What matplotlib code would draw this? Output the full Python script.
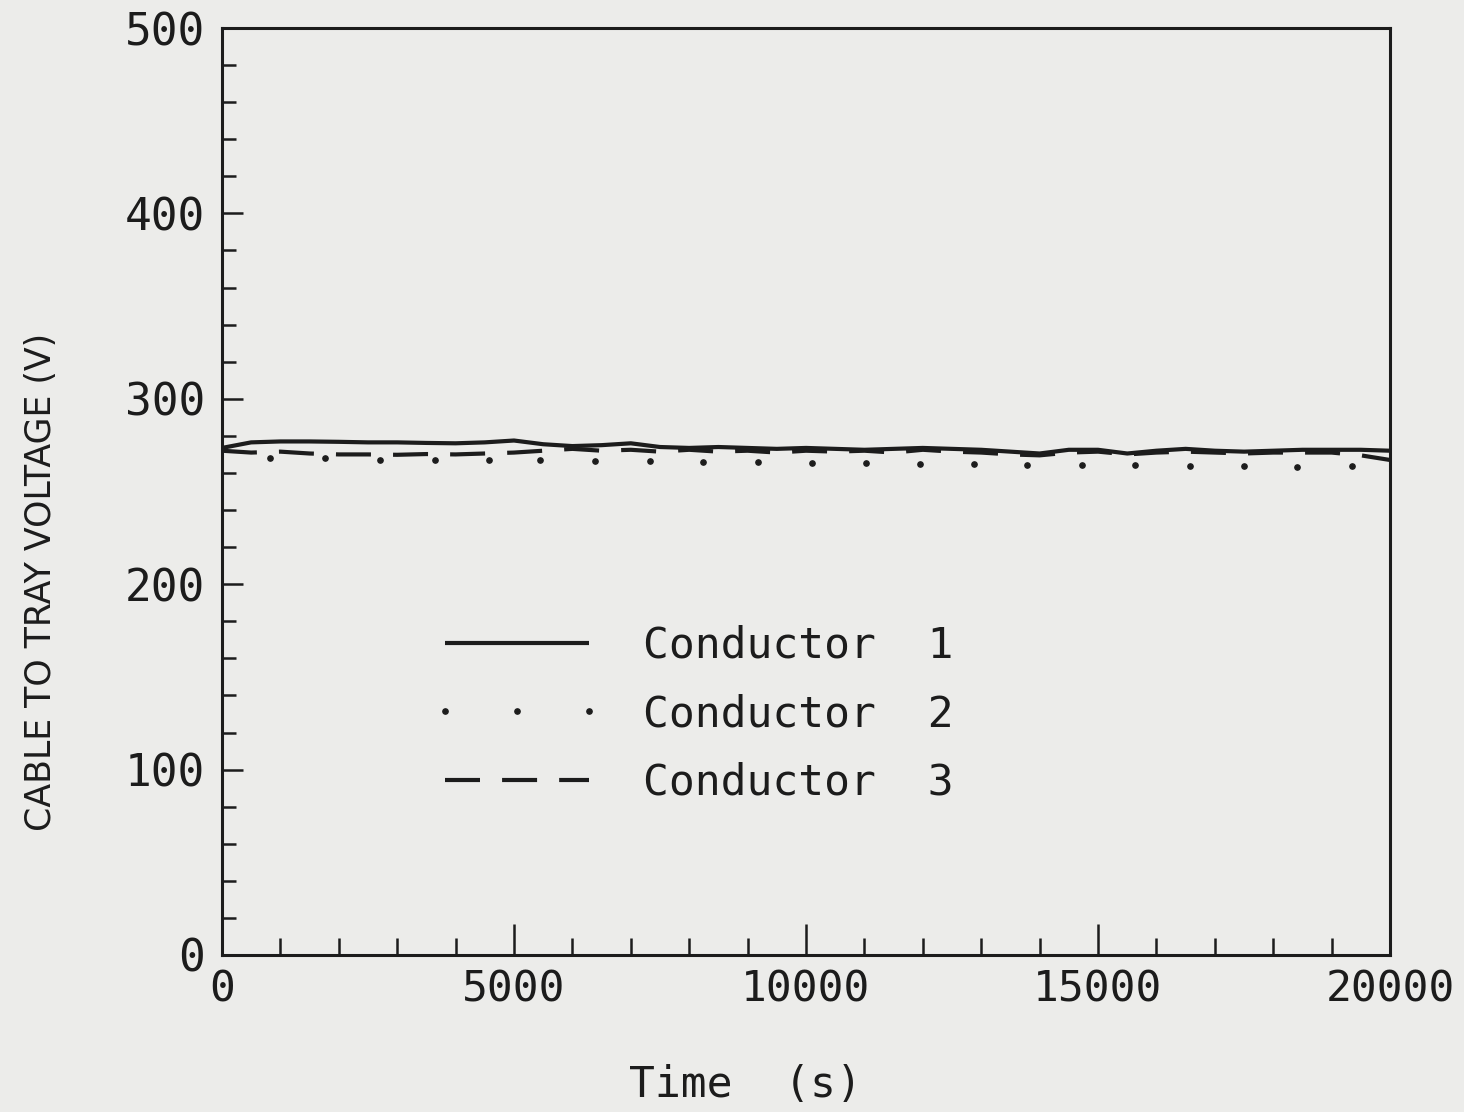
import matplotlib
matplotlib.use("Agg")
import matplotlib.pyplot as plt
from matplotlib.ticker import MultipleLocator

# Time axis (s) for the sampled voltage records
time_s = [0, 500, 1000, 1500, 2000, 2500, 3000, 3500, 4000, 4500,
          5000, 5500, 6000, 6500, 7000, 7500, 8000, 8500, 9000, 9500,
          10000, 10500, 11000, 11500, 12000, 12500, 13000, 13500, 14000, 14500,
          15000, 15500, 16000, 16500, 17000, 17500, 18000, 18500, 19000, 19500,
          20000]

conductor1 = [273.5, 276.5, 277.0, 277.0, 276.8, 276.5, 276.5, 276.2, 276.0, 276.5,
              277.5, 275.5, 274.5, 275.0, 276.0, 274.0, 273.5, 274.0, 273.5, 273.0,
              273.5, 273.0, 272.5, 273.0, 273.5, 273.0, 272.5, 271.5, 270.5, 272.5,
              272.5, 270.5, 272.0, 273.0, 272.0, 271.5, 272.0, 272.5, 272.5, 272.5,
              272.0]

conductor3 = [272.0, 271.0, 271.5, 270.5, 270.0, 270.0, 269.8, 270.2, 270.0, 270.5,
              271.0, 272.0, 273.0, 272.0, 272.5, 271.5, 272.5, 271.5, 272.0, 271.0,
              272.0, 271.5, 272.0, 271.0, 272.5, 271.5, 271.0, 270.0, 269.5, 271.0,
              271.5, 270.0, 271.0, 271.5, 271.0, 270.5, 271.0, 271.0, 271.0, 269.5,
              267.0]

# Conductor 2 is recorded at a coarser interval
time2_s = [820, 1760, 2700, 3640, 4580, 5450, 6390, 7330, 8230, 9180,
           10100, 11030, 11950, 12870, 13780, 14730, 15630, 16580, 17500, 18410,
           19350]
conductor2 = [268.0, 268.0, 267.0, 267.0, 267.0, 267.0, 266.5, 266.5, 266.0, 266.0,
              265.5, 265.5, 265.0, 265.0, 264.5, 264.5, 264.5, 264.0, 264.0, 263.0,
              264.0]

labels = ["Conductor  1", "Conductor  2", "Conductor  3"]
x_ticks = [0, 5000, 10000, 15000, 20000]
y_ticks = [0, 100, 200, 300, 400, 500]

ink = "#1c1c1c"
paper = "#ececea"

fig = plt.figure(figsize=(14.64, 11.12), dpi=100, facecolor=paper)
ax = fig.add_axes([0.1516, 0.1412, 0.7979, 0.8336], facecolor=paper)

ax.plot(time_s, conductor1, color=ink, lw=3.0, solid_capstyle="butt", label=labels[0])
ax.plot(time2_s, conductor2, color=ink, lw=0, marker="o", markersize=3.8, label=labels[1])
ax.plot(time_s, conductor3, color=ink, lw=3.0, linestyle=(0, (8.4, 5.3)), label=labels[2])

ax.set_xlim(0, 20000)
ax.set_ylim(0, 500)
ax.xaxis.set_major_locator(MultipleLocator(5000))
ax.xaxis.set_minor_locator(MultipleLocator(1000))
ax.yaxis.set_major_locator(MultipleLocator(100))
ax.yaxis.set_minor_locator(MultipleLocator(20))
ax.set_xticks(x_ticks)
ax.set_yticks(y_ticks)

mono = "DejaVu Sans Mono"
ax.set_xticklabels([str(v) for v in x_ticks], fontsize=31, family=mono, color=ink)
ax.set_yticklabels([str(v) for v in y_ticks], fontsize=32, family=mono, color=ink)

ax.tick_params(which="both", direction="in", color=ink, width=1.8,
               top=False, right=False)
ax.tick_params(axis="x", which="major", length=22, pad=10)
ax.tick_params(axis="x", which="minor", length=12)
ax.tick_params(axis="y", which="major", length=15, pad=12)
ax.tick_params(axis="y", which="minor", length=10)

for side in ax.spines.values():
    side.set_color(ink)
    side.set_linewidth(2.2)

ax.set_xlabel("Time  (s)", fontsize=31, family=mono, color=ink)
ax.xaxis.set_label_coords(0.448, -0.118)
ax.set_ylabel("CABLE TO TRAY VOLTAGE (V)", fontsize=25,
              family=["Liberation Sans Narrow", "DejaVu Sans"], color=ink)
ax.yaxis.set_label_coords(-0.14, 0.402)

leg = ax.legend(loc="upper left", bbox_to_anchor=(0.165, 0.375), frameon=False,
                numpoints=3, handlelength=3.95, handletextpad=0.95,
                labelspacing=0.62, borderaxespad=0,
                prop={"family": mono, "size": 31})
for t in leg.get_texts():
    t.set_color(ink)

fig.savefig("out.png", dpi=100, facecolor=paper)
